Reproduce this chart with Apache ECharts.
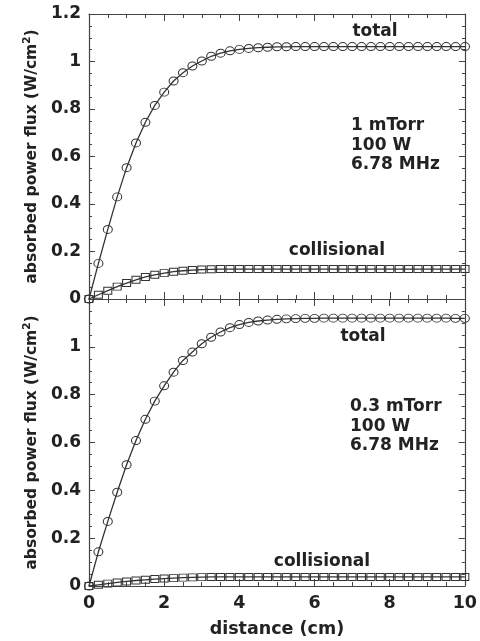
<!DOCTYPE html>
<html>
<head>
<meta charset="utf-8">
<script src="https://cdn.jsdelivr.net/npm/echarts@6/dist/echarts.min.js"></script>
<style>html,body{margin:0;padding:0;background:#fff;}#c{width:480px;height:641px;}</style>
</head>
<body>
<div id="c"></div>
<script>
// distance (cm), step 0.25
var distance = [0,0.25,0.5,0.75,1,1.25,1.5,1.75,2,2.25,2.5,2.75,3,3.25,3.5,3.75,4,4.25,4.5,4.75,5,5.25,5.5,5.75,6,6.25,6.5,6.75,7,7.25,7.5,7.75,8,8.25,8.5,8.75,9,9.25,9.5,9.75,10];
// top panel: 1 mTorr
var topTotal = [0,0.15,0.293,0.43,0.553,0.657,0.744,0.815,0.871,0.918,0.953,0.981,1.002,1.022,1.035,1.045,1.051,1.055,1.058,1.06,1.062,1.062,1.063,1.063,1.063,1.063,1.063,1.063,1.063,1.063,1.063,1.063,1.063,1.063,1.063,1.063,1.063,1.063,1.063,1.063,1.063];
var topColl = [0,0.018,0.035,0.052,0.067,0.081,0.093,0.102,0.109,0.115,0.119,0.122,0.124,0.125,0.126,0.126,0.126,0.126,0.126,0.126,0.126,0.126,0.126,0.126,0.126,0.126,0.126,0.126,0.126,0.126,0.126,0.126,0.126,0.126,0.126,0.126,0.126,0.126,0.126,0.126,0.126];
// bottom panel: 0.3 mTorr
var botTotal = [0,0.143,0.27,0.392,0.507,0.608,0.697,0.773,0.837,0.894,0.943,0.978,1.013,1.04,1.062,1.08,1.093,1.102,1.108,1.112,1.115,1.117,1.118,1.119,1.119,1.12,1.12,1.12,1.12,1.12,1.12,1.12,1.12,1.12,1.12,1.12,1.12,1.12,1.12,1.119,1.119];
var botColl = [0,0.005,0.01,0.015,0.019,0.023,0.026,0.029,0.031,0.033,0.035,0.036,0.037,0.038,0.038,0.038,0.038,0.038,0.038,0.038,0.038,0.038,0.038,0.038,0.038,0.038,0.038,0.038,0.038,0.038,0.038,0.038,0.038,0.038,0.038,0.038,0.038,0.038,0.038,0.038,0.038];
var xTicks = [0,2,4,6,8,10];
var yTicks = [0,0.2,0.4,0.6,0.8,1,1.2];

var FONT = 'DejaVu Sans, Liberation Sans, Arial, sans-serif';
var TXT = '#222';

function pairs(ys){ return distance.map(function(x,i){ return [x, ys[i]]; }); }

function xAx(grid, pos, showLabel, name){
  return {
    type:'value', gridIndex:grid, position:pos, min:0, max:10, interval:2,
    name: name || '', nameLocation:'middle', nameGap:34,
    nameTextStyle:{fontFamily:FONT, fontWeight:'bold', fontSize:17.5, color:TXT},
    axisLine:{show:true, onZero:false, lineStyle:{color:'#444', width:1.2}},
    axisTick:{show:true, inside:true, length:7, lineStyle:{color:'#444', width:1}},
    minorTick:{show:true, splitNumber:4, length:4, lineStyle:{color:'#444', width:1}},
    splitLine:{show:false},
    axisLabel:{show:showLabel, margin:8, fontFamily:FONT, fontWeight:'bold', fontSize:17.5, color:TXT,
      formatter:function(v){ return xTicks.indexOf(v) >= 0 ? String(v) : ''; }}
  };
}
function yAx(grid, pos, showLabel, hideTop){
  return {
    type:'value', gridIndex:grid, position:pos, min:0, max:1.2, interval:0.2,
    name: showLabel ? 'absorbed power flux (W/cm{sup|2})' : '',
    nameLocation:'middle', nameGap:45,
    nameTextStyle:{fontFamily:FONT, fontWeight:'bold', fontSize:15.5, color:TXT,
      rich:{sup:{fontFamily:FONT, fontWeight:'bold', fontSize:10.5, color:TXT, padding:[0,0,9,0]}}},
    axisLine:{show:true, onZero:false, lineStyle:{color:'#444', width:1.2}},
    axisTick:{show:true, inside:true, length:6, lineStyle:{color:'#444', width:1}},
    minorTick:{show:true, splitNumber:4, length:3, lineStyle:{color:'#444', width:1}},
    splitLine:{show:false},
    axisLabel:{show:showLabel, margin:8, fontFamily:FONT, fontWeight:'bold', fontSize:17, color:TXT,
      formatter:function(v){
        var r = Math.round(v*10)/10;
        if (hideTop && r === 1.2) return '';
        return String(r);
      }}
  };
}
function lineSeries(xi, yi, ys, sym, size){
  return {
    type:'line', xAxisIndex:xi, yAxisIndex:yi, data:pairs(ys),
    symbol:sym, symbolSize:size, showSymbol:true, animation:false,
    lineStyle:{color:'#333', width:1.3},
    itemStyle:{color:'rgba(0,0,0,0)', borderColor:'#333', borderWidth:1},
    emphasis:{disabled:true}
  };
}
function txt(s, x, y, align){
  return {type:'text', x:x, y:y, z:100,
    style:{text:s, x:0, y:0, font:'bold 17px ' + FONT, fill:TXT,
      textAlign:align, align:align, textVerticalAlign:'middle', verticalAlign:'middle'}};
}

var chart = echarts.init(document.getElementById('c'), null, {renderer:'canvas'});
chart.setOption({
  backgroundColor:'#fff',
  animation:false,
  grid:[
    {left:89, top:14, width:376, height:285},
    {left:89, top:299, width:376, height:287}
  ],
  xAxis:[
    xAx(0,'bottom',false),
    xAx(0,'top',false),
    xAx(1,'bottom',true,'distance (cm)'),
    xAx(1,'top',false)
  ],
  yAxis:[
    yAx(0,'left',true,false),
    yAx(0,'right',false,false),
    yAx(1,'left',true,true),
    yAx(1,'right',false,false)
  ],
  series:[
    lineSeries(0,0,topTotal,'circle',[9,8]),
    lineSeries(0,0,topColl,'rect',[8,7]),
    lineSeries(2,2,botTotal,'circle',[9,8]),
    lineSeries(2,2,botColl,'rect',[8,7])
  ],
  graphic:[
    txt('total', 375, 32, 'center'),
    txt('1 mTorr', 351, 126, 'left'),
    txt('100 W', 351, 146, 'left'),
    txt('6.78 MHz', 351, 165, 'left'),
    txt('collisional', 337, 251, 'center'),
    txt('total', 363, 337, 'center'),
    txt('0.3 mTorr', 350, 407, 'left'),
    txt('100 W', 350, 427, 'left'),
    txt('6.78 MHz', 350, 446, 'left'),
    txt('collisional', 322, 562, 'center')
  ]
});
</script>
</body>
</html>
